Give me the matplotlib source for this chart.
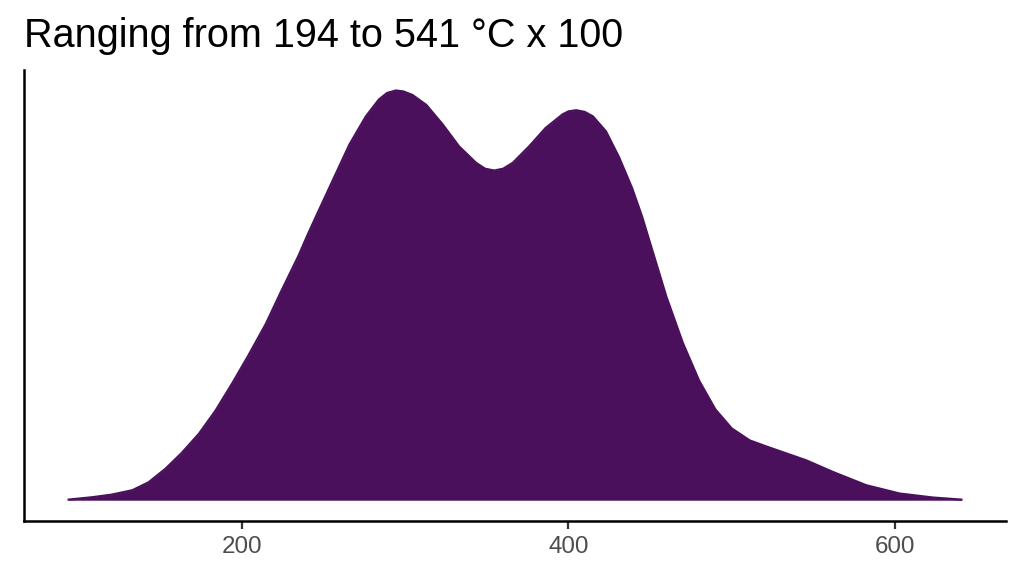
import matplotlib
matplotlib.use('Agg')
import matplotlib.pyplot as plt

# density curve (temperature in degC x 100)
temp = [94, 108.5, 120, 133, 143, 153.4, 163, 173.8, 184, 194, 204, 214.7, 224,
        235, 240, 247, 255.5, 266, 276, 284, 289, 294.4, 299, 304.5, 313, 323,
        333, 343.4, 349, 354.6, 360, 366, 376, 386, 396.4, 400, 404.7, 410, 415,
        423, 431, 439, 445, 450, 460, 470, 480, 490, 500, 511, 521, 531, 545.6,
        562, 582.4, 602.8, 623, 640.6]
dens = [0.6, 3, 5.5, 10, 18, 31.7, 47, 66.7, 90, 116.7, 145, 176.7, 209,
        246, 265, 290, 320, 357, 385, 402, 408.5, 411, 410, 406.5, 396.5, 377,
        355, 338.5, 332.5, 330.7, 332.5, 338.5, 355, 373.3, 387, 390, 391.2, 389.5, 385,
        370, 344, 313, 285, 258, 204, 158, 120, 91, 72, 60, 54, 48.3, 40,
        28.3, 15, 6.7, 2.7, 0.6]
dens = [d * 1.1e-5 for d in dens]

title = "Ranging from 194 to 541 °C x 100"
fill_col = '#4a105c'

plt.rcParams['font.family'] = ['Liberation Sans', 'DejaVu Sans']

fig = plt.figure(figsize=(10.24, 5.76), dpi=100)
ax = fig.add_axes([24 / 1024, 1 - 520.7 / 576, (1006 - 24) / 1024, (520.7 - 70) / 576])

ax.fill_between(temp, dens, 0, color=fill_col, lw=0)
ax.plot(temp, dens, color=fill_col, lw=1.6, solid_joinstyle='round')

xr = max(temp) - min(temp)
ax.set_xlim(min(temp) - 0.05 * xr, max(temp) + 0.05 * xr)
ymax = max(dens)
ax.set_ylim(-0.05 * ymax, 1.05 * ymax)

ax.set_xticks([200, 400, 600])
ax.set_xticklabels(['200', '400', '600'])
ax.tick_params(axis='x', length=6, width=1.6, color='#333333', labelsize=17.4,
               labelcolor='#4d4d4d', pad=5)
ax.set_yticks([])
for s in ['top', 'right']:
    ax.spines[s].set_visible(False)
for s in ['left', 'bottom']:
    ax.spines[s].set_linewidth(1.8)
    ax.spines[s].set_color('black')

fig.text(24 / 1024, 1 - 47 / 576, title, fontsize=28.5, ha='left', va='baseline')

fig.savefig('out.png', dpi=100)
